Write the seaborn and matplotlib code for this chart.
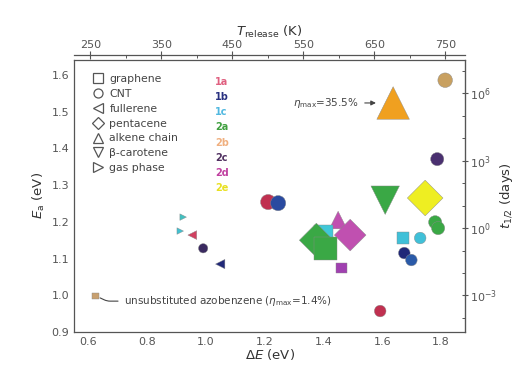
import numpy as np
import pandas as pd
import matplotlib
matplotlib.use("Agg")
import matplotlib.pyplot as plt
import matplotlib.ticker as mticker
from matplotlib.lines import Line2D
import seaborn as sns

# ---------------- data ----------------
dE = [1.637, 1.814, 1.787, 1.610, 1.746, 1.780, 1.790, 1.671, 1.729, 1.675, 1.699,
      1.450, 1.491, 1.461, 1.400, 1.376, 1.406, 1.593, 1.212, 1.246,
      0.923, 0.913, 0.954, 0.991, 1.049, 0.625]
Ea = [1.524, 1.586, 1.371, 1.259, 1.265, 1.199, 1.183, 1.156, 1.156, 1.115, 1.096,
      1.205, 1.164, 1.074, 1.165, 1.150, 1.128, 0.957, 1.254, 1.251,
      1.213, 1.175, 1.164, 1.128, 1.085, 0.998]
shape = ["alkene chain", "CNT", "CNT", "β-carotene", "pentacene", "CNT", "CNT", "graphene", "CNT",
         "CNT", "CNT", "alkene chain", "pentacene", "graphene", "graphene", "pentacene", "graphene",
         "CNT", "CNT", "CNT", "gas phase", "gas phase", "fullerene", "CNT", "fullerene", "graphene"]
colour = ["#f0a020", "#c8a060", "#4a3070", "#3aa845", "#eeee22", "#3aa845", "#3aa845", "#40c0d8", "#40c0d8",
          "#202878", "#2a5aa8", "#c050b0", "#c050b0", "#a040b0", "#40c8d8", "#3aa845", "#3aa845",
          "#c03050", "#c03050", "#2a4aa0", "#40c0c0", "#40c0d0", "#d04060", "#3a2a60", "#202878", "#c8a070"]
msize = [550, 110, 90, 420, 330, 90, 90, 70, 70, 70, 70,
         160, 260, 55, 180, 300, 280, 70, 120, 120,
         22, 22, 40, 45, 45, 20]

legend_shapes = ["graphene", "CNT", "fullerene", "pentacene", "alkene chain", "β-carotene", "gas phase"]
marker_map = {"graphene": "s", "CNT": "o", "fullerene": "<", "pentacene": "D",
              "alkene chain": "^", "β-carotene": "v", "gas phase": ">"}
colour_labels = ["1a", "1b", "1c", "2a", "2b", "2c", "2d", "2e"]
colour_label_cols = ["#e06080", "#283080", "#50b8e0", "#40a040", "#f0b080", "#503060", "#c040a0", "#e8e020"]

xticks = [0.6, 0.8, 1.0, 1.2, 1.4, 1.6, 1.8]
yticks = [0.9, 1.0, 1.1, 1.2, 1.3, 1.4, 1.5, 1.6]
T_ticks = [250, 350, 450, 550, 650, 750]
t_ticks = [1e-3, 1e0, 1e3, 1e6]

df = pd.DataFrame({"dE": dE, "Ea": Ea, "shape": shape, "colour": colour, "msize": msize})

# ---------------- figure ----------------
sns.set_style("white")
plt.rcParams["font.family"] = ["DejaVu Sans"]
grey = "#555555"
plt.rcParams.update({"axes.edgecolor": grey, "xtick.color": grey, "ytick.color": grey,
                     "axes.labelcolor": "#333333", "text.color": "#333333"})

fig = plt.figure(figsize=(5.18, 3.66), dpi=100)
ax = fig.add_axes([0.143, 0.093, 0.755, 0.743])

sns.scatterplot(data=df, x="dE", y="Ea", hue="colour", style="shape", size="msize",
                palette={c: c for c in set(colour)}, markers=marker_map,
                sizes={s: s for s in set(msize)}, linewidth=0.3, edgecolor="#888888",
                legend=False, ax=ax, zorder=3)

ax.set_xlim(0.552, 1.882)
ax.set_ylim(0.9, 1.641)
ax.set_xticks(xticks)
ax.set_yticks(yticks)
ax.xaxis.set_major_formatter(mticker.FormatStrFormatter("%.1f"))
ax.yaxis.set_major_formatter(mticker.FormatStrFormatter("%.1f"))
ax.xaxis.set_minor_locator(mticker.MultipleLocator(0.1))
ax.yaxis.set_minor_locator(mticker.MultipleLocator(0.05))
ax.tick_params(which="major", direction="inout", length=5, width=0.8, labelsize=8, pad=1)
ax.tick_params(which="minor", direction="in", length=2.5, width=0.7)
ax.tick_params(top=False, right=False, which="both")
for sp in ax.spines.values():
    sp.set_linewidth(0.9)
ax.set_xlabel(r"$\Delta E$ (eV)", fontsize=9.5, labelpad=0)
ax.set_ylabel(r"$E_{\rm a}$ (eV)", fontsize=9.5, labelpad=3)

# top axis: T_release
def e2T(x):
    return 250 + 414.0 * (np.asarray(x) - 0.607)

def T2e(T):
    return 0.607 + (np.asarray(T) - 250) / 414.0

top = ax.secondary_xaxis(1.018, functions=(e2T, T2e))
top.set_xticks(T_ticks)
top.xaxis.set_minor_locator(mticker.MultipleLocator(50))
top.tick_params(which="major", direction="inout", length=6, width=0.8, labelsize=8, pad=1)
top.tick_params(which="minor", direction="in", length=2.5, width=0.7)
top.spines["top"].set_linewidth(0.9)
top.set_xlabel(r"$T_{\rm release}$ (K)", fontsize=9.5, labelpad=3)

# right axis: t_1/2 (log)
def e2t(y):
    return 10 ** ((np.asarray(y, dtype=float) - 1.183) / 0.0612)

def t2e(t):
    t = np.clip(np.asarray(t, dtype=float), 1e-300, None)
    return 1.183 + 0.0612 * np.log10(t)

right = ax.secondary_yaxis("right", functions=(e2t, t2e))
right.set_yscale("log")
right.yaxis.set_major_locator(mticker.FixedLocator(t_ticks))
right.yaxis.set_minor_locator(mticker.FixedLocator([10.0 ** k for k in range(-5, 9)]))
right.yaxis.set_minor_formatter(mticker.NullFormatter())
right.yaxis.set_major_formatter(mticker.FuncFormatter(lambda v, p: r"$10^{%d}$" % round(np.log10(v))))
right.tick_params(which="major", direction="inout", length=5, width=0.8, labelsize=8, pad=1)
right.tick_params(which="minor", direction="in", length=2.5, width=0.7)
right.set_ylabel(r"$t_{1/2}$ (days)", fontsize=9.5, labelpad=1)

# annotations
ax.annotate(r"$\eta_{\rm max}$=35.5%", xy=(1.588, 1.524), xytext=(1.52, 1.524),
            ha="right", va="center", fontsize=7.5, color="#444444",
            arrowprops=dict(arrowstyle="-|>", color="#444444", lw=0.8, mutation_scale=7))
ax.annotate(r"unsubstituted azobenzene ($\eta_{\rm max}$=1.4%)", xy=(0.632, 0.996),
            xytext=(0.722, 0.984), ha="left", va="center", fontsize=7.5, color="#444444",
            arrowprops=dict(arrowstyle="-", color="#444444", lw=0.8,
                            connectionstyle="angle,angleA=0,angleB=-25,rad=3"))

# shape legend
handles = [Line2D([], [], linestyle="none", marker=marker_map[s], markersize=6.5,
                  markerfacecolor="none", markeredgecolor="#555555", markeredgewidth=0.9)
           for s in legend_shapes]
leg = ax.legend(handles, legend_shapes, loc="upper left", bbox_to_anchor=(0.035, 0.965),
                frameon=False, fontsize=7.8, labelspacing=0.45, handletextpad=0.6,
                handlelength=1.0, borderaxespad=0)
for t in leg.get_texts():
    t.set_color("#444444")

# colour legend labels
for i, (lab, c) in enumerate(zip(colour_labels, colour_label_cols)):
    ax.text(0.36, 0.919 - i * 0.0557, lab, transform=ax.transAxes, fontsize=7,
            color=c, fontweight="bold", ha="left", va="center")

fig.savefig("out.png", dpi=100)
